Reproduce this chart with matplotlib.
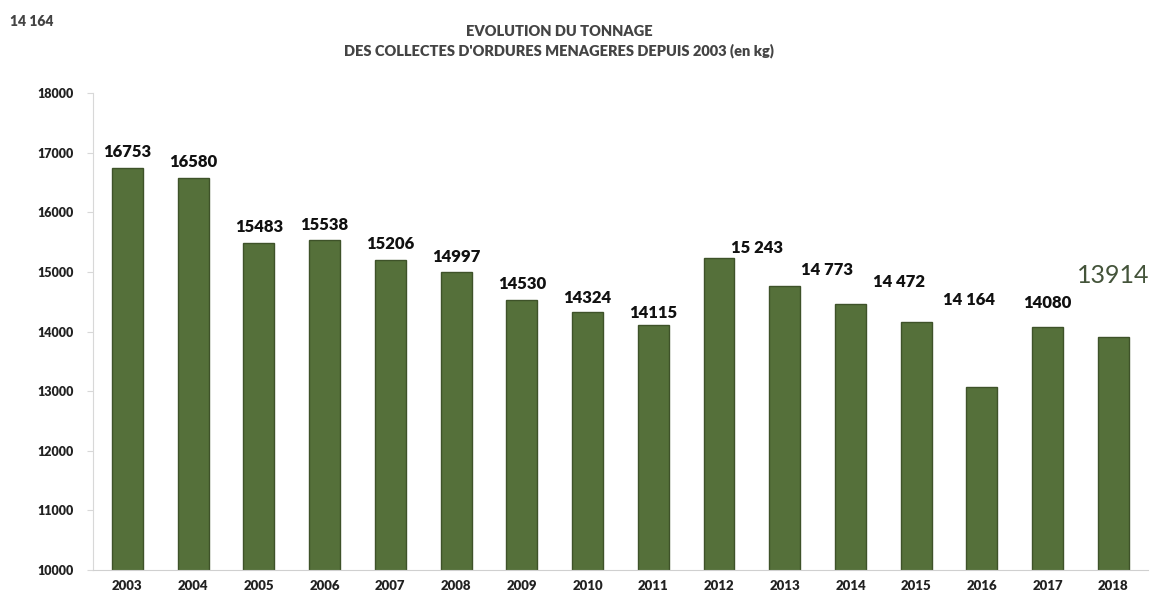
import matplotlib
matplotlib.use("Agg")
import matplotlib.pyplot as plt

# Data
years = ["2003", "2004", "2005", "2006", "2007", "2008", "2009", "2010",
         "2011", "2012", "2013", "2014", "2015", "2016", "2017", "2018"]
tonnage = [16753, 16580, 15483, 15538, 15206, 14997, 14530, 14324,
           14115, 15243, 14773, 14472, 14164, 13070, 14080, 13914]
bar_labels = ["16753", "16580", "15483", "15538", "15206", "14997", "14530", "14324",
              "14115", "15 243", "14 773", "14 472", "14 164", "", "14080", "13914"]
stray_label = "14 164"
title = "EVOLUTION DU TONNAGE\nDES COLLECTES D'ORDURES MENAGERES DEPUIS 2003 (en kg)"
yticks = list(range(10000, 18001, 1000))

plt.rcParams['font.family'] = ['Lato', 'DejaVu Sans']

fig = plt.figure(figsize=(11.51, 5.94), dpi=100)
ax = fig.add_axes([0.081, 0.0404, 0.916, 0.8026])

x = list(range(len(years)))
ax.bar(x, tonnage, width=0.47, color='#55703a', edgecolor='#3e5229', linewidth=1.0, zorder=2)

ax.set_xlim(-0.52, len(years) - 0.48)
ax.set_ylim(10000, 18000)
ax.set_yticks(yticks)
ax.set_yticklabels([str(t) for t in yticks], fontsize=9, fontweight='heavy', color='#222222')
ax.set_xticks(x)
ax.set_xticklabels(years, fontsize=9.5, fontweight='heavy', color='#222222')

for s in ['top', 'right']:
    ax.spines[s].set_visible(False)
ax.spines['left'].set_color('#d8d8d8')
ax.spines['bottom'].set_color('#d0d0d0')
ax.tick_params(axis='y', length=4, color='#d8d8d8', pad=10)
ax.tick_params(axis='x', length=0, pad=7)

# value labels (some sit off to the right of their bar, as in the original)
x_shift = [0, 0, 0, 0, 0, 0, 0, 0, 0, 0.58, 0.65, 0.74, 0.8, 0, 0, 0]
y_shift = [16, 16, 16, 15, 16, 15, 16, 14, 12, 10, 16, 22, 22, 0, 24, 0]
for i, (v, lab) in enumerate(zip(tonnage, bar_labels)):
    if not lab:
        continue
    if i == len(years) - 1:
        ax.annotate(lab, (i, v), xytext=(0, 61), textcoords='offset pixels',
                    ha='center', va='center', fontsize=18, color='#44543a')
        continue
    ax.annotate(lab, (i + x_shift[i], v), xytext=(0, y_shift[i]), textcoords='offset pixels',
                ha='center', va='center', fontsize=12, fontweight='heavy', color='#111111')

fig.text(0.486, 0.93, title, ha='center', va='center', fontsize=10.5, fontweight='heavy',
         color='#444444', linespacing=1.4)
fig.text(0.009, 0.963, stray_label, ha='left', va='center', fontsize=10, fontweight='heavy',
         color='#444444')

fig.savefig("out.png", dpi=100)
